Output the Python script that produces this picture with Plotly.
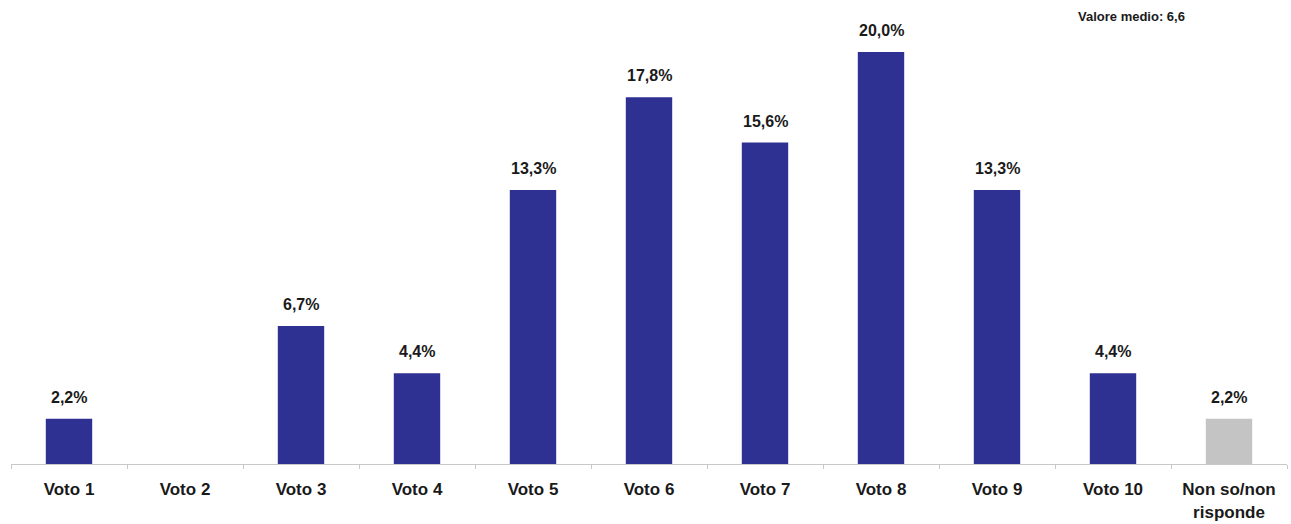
import plotly.graph_objects as go

categories = ["Voto 1", "Voto 2", "Voto 3", "Voto 4", "Voto 5", "Voto 6",
              "Voto 7", "Voto 8", "Voto 9", "Voto 10", "Non so/non<br>risponde"]
values = [2.2, 0.0, 6.7, 4.4, 13.3, 17.8, 15.6, 20.0, 13.3, 4.4, 2.2]
labels = ["2,2%", "", "6,7%", "4,4%", "13,3%", "17,8%", "15,6%", "20,0%",
          "13,3%", "4,4%", "2,2%"]
colors = ["#2f3192"] * 10 + ["#c4c4c4"]
note = "Valore medio: 6,6"

FONT = "Liberation Sans, Arial, sans-serif"

fig = go.Figure(go.Bar(
    x=categories,
    y=values,
    marker=dict(color=colors, line=dict(width=0)),
    hoverinfo="x+y",
))

# value labels above each bar
annotations = [
    dict(x=c, y=v, text=t, xref="x", yref="y", showarrow=False,
         xanchor="center", yanchor="bottom", yshift=11,
         font=dict(family=FONT, size=16, color="#1a1a1a", weight="bold"))
    for c, v, t in zip(categories, values, labels) if t
]
annotations.append(dict(
    text=note, xref="paper", yref="paper", x=0.922, y=0.985,
    xanchor="right", yanchor="top", showarrow=False,
    font=dict(family=FONT, size=13, color="#1a1a1a", weight="bold"),
))

fig.update_layout(
    width=1291, height=524,
    margin=dict(l=11, r=4, t=0, b=60),
    paper_bgcolor="white", plot_bgcolor="white",
    bargap=0.6,
    showlegend=False,
    xaxis=dict(
        showline=True, linecolor="#c8c8c8", linewidth=1,
        ticks="outside", tickson="boundaries", ticklen=4, tickcolor="#c8c8c8",
        ticklabelstandoff=10,
        tickfont=dict(family=FONT, size=17, color="#1a1a1a", weight="bold"),
        showgrid=False,
    ),
    yaxis=dict(range=[0, 22.52], visible=False, showgrid=False),
    annotations=annotations,
)

fig.write_html("out.html")
